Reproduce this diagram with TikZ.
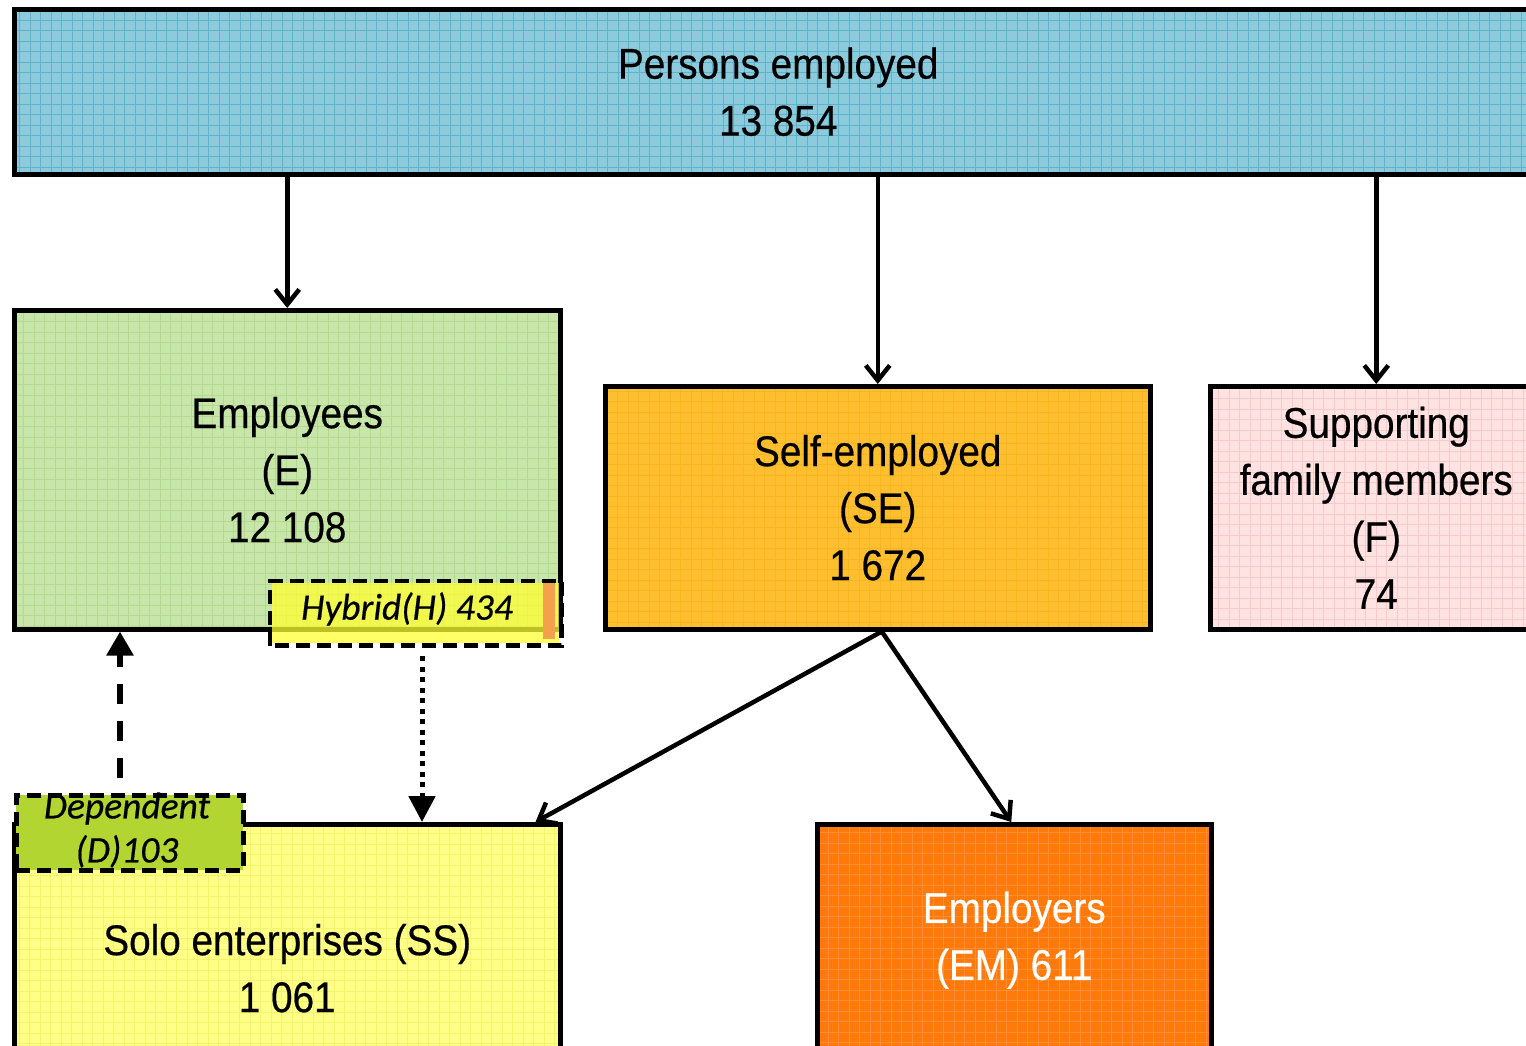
\documentclass[tikz,border=0pt]{standalone}
\usepackage{fontspec}
\setmainfont{Liberation Sans}[FakeStretch=0.9,FakeBold=0.5]
\newfontfamily\califont{Carlito}[FakeBold=0.4]
\usetikzlibrary{arrows.meta,calc}
\definecolor{cblue}{HTML}{8DCADB}
\definecolor{cbluegrid}{HTML}{5DB3CB}
\definecolor{cgreen}{HTML}{C9E6AA}
\definecolor{cgreengrid}{HTML}{B3D98E}
\definecolor{cgold}{HTML}{FDBF30}
\definecolor{cgoldgrid}{HTML}{F7B520}
\definecolor{cpink}{HTML}{FFE2E2}
\definecolor{cpinkgrid}{HTML}{F8CACA}
\definecolor{cyel}{HTML}{FFFF88}
\definecolor{cyelgrid}{HTML}{F4F46A}
\definecolor{corange}{HTML}{FF7A0A}
\definecolor{corangegrid}{HTML}{FF8F35}
\definecolor{cdep}{HTML}{B3D531}
\definecolor{chyb}{HTML}{FFFF33}
\definecolor{chybstrip}{HTML}{F5A04A}
\newcommand\bigtxt{\fontsize{43}{57}\selectfont}
\newcommand\smalltxt{\califont\itshape\fontsize{37.5}{44}\selectfont}
\begin{document}
\begin{tikzpicture}[x=1pt,y=-1pt,
  box/.style={draw, line width=4.5pt, inner sep=0pt, anchor=north west, align=center, font=\bigtxt},
  gridfill/.style={path picture={\draw[#1, line width=0.8pt] (path picture bounding box.south west) grid[step=10.5pt] (path picture bounding box.north east);}},
  dbox/.style={draw, line width=4.5pt, dash pattern=on 14pt off 7pt, inner sep=0pt, anchor=north west},
  arr/.style={line width=4.5pt, -{Straight Barb[length=15pt,width=24pt]}},
  darr/.style={line width=5.5pt, dash pattern=on 20pt off 17pt, -{Triangle[length=24pt,width=26pt]}},
  oarr/.style={line width=5pt, dash pattern=on 5pt off 5.5pt, -{Triangle[length=26pt,width=26pt]}},
  lab/.style={align=center, inner sep=0pt, font=\smalltxt}
]
\clip (0,0) rectangle (1526,1045);
\fill[white] (0,0) rectangle (1526,1045);

% boxes
\node (top) [box, fill=cblue, gridfill=cbluegrid, minimum width=1528, minimum height=165] at (12,7) {Persons employed\\13 854};
\node (emp) [box, fill=cgreen, gridfill=cgreengrid, minimum width=546, minimum height=319] at (12,308) {Employees\\(E)\\12 108};
\node (se) [box, fill=cgold, gridfill=cgoldgrid, minimum width=545, minimum height=243] at (603,384) {Self-employed\\(SE)\\1 672};
\node (sup) [box, fill=cpink, gridfill=cpinkgrid, minimum width=332, minimum height=243] at (1208,384) {Supporting\\family members\\(F)\\74};
\node (solo) [box, fill=cyel, gridfill=cyelgrid, minimum width=546, minimum height=288] at (12,822) {Solo enterprises (SS)\\1 061};
\node (em) [box, fill=corange, gridfill=corangegrid, text=white, minimum width=394, minimum height=232] at (815,822) {Employers\\(EM) 611};

% hybrid box
\node (hyb) [dbox, draw=none, fill=chyb, fill opacity=0.75, minimum width=287, minimum height=60] at (270,581) {};
\fill[chybstrip] (543,583) rectangle (555,639);
\draw[line width=4.5pt, dash pattern=on 14pt off 7pt] (hyb.south west) rectangle (hyb.north east);
\node (hybt) [lab] at (407,609) {Hybrid(H) 434};

% dependent box
\node (dep) [dbox, fill=cdep, minimum width=227, minimum height=75] at (14,793) {};
\node (dept) [lab] at (127,830) {Dependent\\(D)103};

% connectors
\draw[arr] (emp.north |- top.south) -- (emp.north);
\draw[arr] (se.north |- top.south) -- (se.north);
\draw[arr] (sup.north |- top.south) -- (sup.north);
\coordinate (sefork) at ($(se.south)+(4,0)$);
\draw[arr] (sefork) -- ($(solo.north east)+(-27,0)$);
\draw[arr] (sefork) -- ($(em.north)+(-3,0)$);
\coordinate (dstart) at (120,778);
\draw[darr] (dstart) -- (dstart |- emp.south);
\coordinate (hstart) at (422,656);
\draw[oarr] (hstart) -- (hstart |- solo.north);
\end{tikzpicture}
\end{document}
